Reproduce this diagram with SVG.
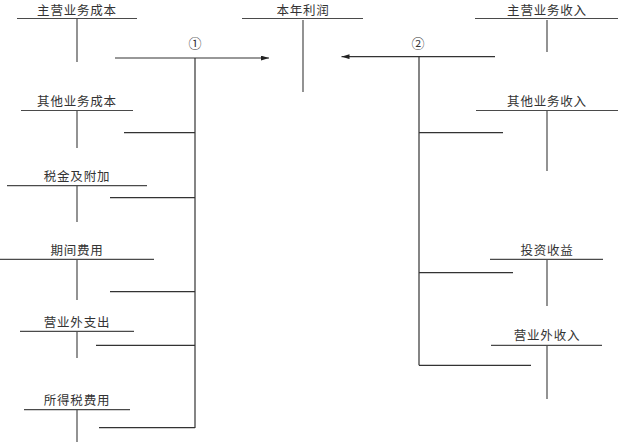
<svg xmlns="http://www.w3.org/2000/svg" width="618" height="442" viewBox="0 0 618 442">
<style>
.t{font-family:"Noto Sans CJK SC","Liberation Serif",serif;font-size:12.5px;fill:#333;text-anchor:middle;letter-spacing:0.8px}
.n{font-family:"DejaVu Serif","Noto Sans CJK SC",serif;font-size:13px;fill:#333;text-anchor:middle}
line{stroke:#4a4a4a;stroke-width:1.2;fill:none}
.c line{stroke:#333}
</style>
<defs>
<marker id="ah" viewBox="0 0 10 6" refX="10" refY="3" markerWidth="8" markerHeight="5" markerUnits="userSpaceOnUse" orient="auto">
<path d="M0,0 L10,3 L0,6 Z" fill="#222"/>
</marker>
</defs>
<rect width="618" height="442" fill="#fff"/>

<g id="zyywcb"><text class="t" x="77" y="14.6">主营业务成本</text><line x1="17" y1="18.5" x2="137" y2="18.5"/><line x1="77" y1="19" x2="77" y2="62"/></g>
<g id="qtywcb"><text class="t" x="77" y="106">其他业务成本</text><line x1="21" y1="110.5" x2="133" y2="110.5"/><line x1="77" y1="111" x2="77" y2="148"/></g>
<g id="sjjfj"><text class="t" x="77" y="181">税金及附加</text><line x1="7" y1="185.7" x2="147" y2="185.7"/><line x1="77" y1="186" x2="77" y2="222"/></g>
<g id="qjfy"><text class="t" x="77" y="255">期间费用</text><line x1="0" y1="259.3" x2="154" y2="259.3"/><line x1="77" y1="260" x2="77" y2="300"/></g>
<g id="yywzc"><text class="t" x="77" y="327">营业外支出</text><line x1="20" y1="331.3" x2="134" y2="331.3"/><line x1="77" y1="332" x2="77" y2="358"/></g>
<g id="sdsfy"><text class="t" x="77" y="405">所得税费用</text><line x1="24" y1="409.7" x2="130" y2="409.7"/><line x1="77" y1="410" x2="77" y2="442"/></g>

<g id="bnlr"><text class="t" x="303" y="14.6">本年利润</text><line x1="242" y1="18.5" x2="363" y2="18.5"/><line x1="303" y1="20" x2="303" y2="92"/></g>

<g id="zyywsr"><text class="t" x="547" y="14.6">主营业务收入</text><line x1="475" y1="18.5" x2="618" y2="18.5"/><line x1="547" y1="20" x2="547" y2="52"/></g>
<g id="qtywsr"><text class="t" x="547" y="106">其他业务收入</text><line x1="476" y1="110.5" x2="618" y2="110.5"/><line x1="547" y1="111" x2="547" y2="171"/></g>
<g id="tzsy"><text class="t" x="547" y="255">投资收益</text><line x1="490" y1="259.3" x2="603" y2="259.3"/><line x1="547" y1="260" x2="547" y2="306"/></g>
<g id="yywsr"><text class="t" x="547" y="340">营业外收入</text><line x1="491" y1="345.3" x2="602" y2="345.3"/><line x1="547" y1="346" x2="547" y2="399"/></g>

<g id="connectors" class="c">
<text class="n" x="195" y="48">①</text>
<line x1="115" y1="58" x2="269" y2="58" marker-end="url(#ah)"/>
<line x1="195" y1="58" x2="195" y2="428"/>
<line x1="124" y1="132.7" x2="195" y2="132.7"/>
<line x1="110" y1="197.7" x2="195" y2="197.7"/>
<line x1="110" y1="291.7" x2="195" y2="291.7"/>
<line x1="96" y1="345.3" x2="195" y2="345.3"/>
<line x1="99" y1="427.7" x2="195" y2="427.7"/>

<text class="n" x="418" y="48">②</text>
<line x1="495" y1="56.7" x2="341.5" y2="56.7" marker-end="url(#ah)"/>
<line x1="419" y1="56.7" x2="419" y2="365.3"/>
<line x1="419" y1="132.7" x2="503" y2="132.7"/>
<line x1="419" y1="272.7" x2="513" y2="272.7"/>
<line x1="419" y1="365.3" x2="531" y2="365.3"/>
</g>
</svg>
